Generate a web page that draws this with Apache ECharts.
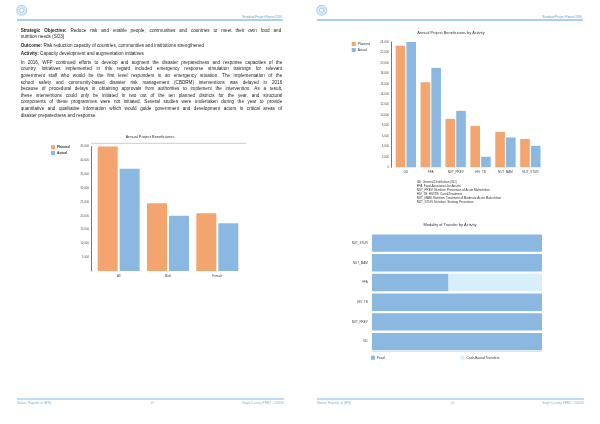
<!DOCTYPE html>
<html><head><meta charset="utf-8">
<script src="https://cdn.jsdelivr.net/npm/echarts@6/dist/echarts.min.js"></script>
<style>html,body{margin:0;padding:0;background:#fff}#c{width:600px;height:424px}</style>
</head><body><div id="c"></div>
<script>
// ---- data ----
const benefCategories = ['All', 'Male', 'Female'];
const benefPlanned = [45000, 24500, 20900];
const benefActual = [37000, 20000, 17300];
const benefMax = 45000, benefStep = 5000;

const activityCategories = ['GD', 'FFA', 'NUT_PREV', 'HIV_TB', 'NUT_MAM', 'NUT_STUN'];
const activityPlanned = [23300, 16300, 9250, 7900, 6750, 5400];
const activityActual = [24000, 19000, 10800, 2000, 5700, 4100];
const activityMax = 24000, activityStep = 2000;
const activityNotes = [
  'GD: General Distribution (GD)',
  'FFA: Food-Assistance-for-Assets',
  'NUT_PREV: Nutrition: Prevention of Acute Malnutrition',
  'HIV_TB: HIV/TB: Care&Treatment',
  'NUT_MAM: Nutrition: Treatment of Moderate Acute Malnutrition',
  'NUT_STUN: Nutrition: Stunting Prevention'
];

const modalityCategories = ['NUT_STUN', 'NUT_MAM', 'FFA', 'HIV_TB', 'NUT_PREV', 'GD'];
const modalityFood = [100, 100, 45, 100, 100, 100];
const modalityCBT = [0, 0, 55, 0, 0, 0];

const headerLines = [
  [['Strategic Objective:', true], ['Reduce risk and enable people, communities and countries to meet their own food and', false]],
  [['nutrition needs (SO3)', false]],
  [['Outcome:', true], ['Risk reduction capacity of countries, communities and institutions strengthened', false]],
  [['Activity:', true], ['Capacity development and augmentation initiatives', false]]
];
const paragraphLines = [
  'In 2016, WFP continued efforts to develop and augment the disaster preparedness and response capacities of the',
  'country. Initiatives implemented in this regard included emergency response simulation trainings for relevant',
  'government staff who would be the first level responders in an emergency situation. The implementation of the',
  'school safety and community-based disaster risk management (CBDRM) interventions was delayed in 2016',
  'because of procedural delays in obtaining approvals from authorities to implement the intervention. As a result,',
  'these interventions could only be initiated in two out of the ten planned districts for the year, and structural',
  'components of these programmes were not initiated. Several studies were undertaken during the year to provide',
  'quantitative and qualitative information which would guide government and development actors in critical areas of',
  'disaster preparedness and response.'
];
const reportTitle = 'Standard Project Report 2016';
const footerLeft = 'Malawi, Republic of (MW)';
const footerRight = 'Single Country PRRO - 200692';
const pageNumbers = ['13', '14'];

// ---- styling ----
const FONT = '"Liberation Sans", Arial, sans-serif';
const ORANGE = '#f3a46f', BLUE = '#8ab8e1', LIGHT = '#d8eefa';
const TEXT = '#1e1e1e';
const mctx = document.createElement('canvas').getContext('2d');
function tw(t, size, bold) {
  mctx.font = (bold ? 'bold ' : 'normal ') + size + 'px ' + FONT;
  return mctx.measureText(t).width;
}
function textLine(segs, x, y, width, size, justify, color) {
  const words = [];
  segs.forEach(([t, b]) => t.split(' ').filter(w => w).forEach(w => words.push({ w, b })));
  const widths = words.map(o => tw(o.w, size, o.b));
  const total = widths.reduce((a, b) => a + b, 0);
  const sp = tw(' ', size, false);
  const gap = (justify && words.length > 1) ? Math.max(sp * 0.6, (width - total) / (words.length - 1)) : sp;
  let cx = x;
  const els = [];
  words.forEach((o, i) => {
    els.push({
      type: 'text', x: cx, y: y, silent: true,
      style: { text: o.w, fontSize: size, fontWeight: o.b ? 'bold' : 'normal', fontFamily: FONT,
        fill: color, verticalAlign: 'middle', textVerticalAlign: 'middle' }
    });
    cx += widths[i] + gap;
  });
  return els;
}

const graphics = [];
// page headers / footers
[0, 300].forEach((ox, p) => {
  graphics.push({ type: 'circle', shape: { cx: ox + 21.7, cy: 10.3, r: 5 }, style: { fill: '#dcebf8', stroke: '#7fb2de', lineWidth: 0.6 } });
  graphics.push({ type: 'circle', shape: { cx: ox + 21.7, cy: 10.3, r: 2.2 }, style: { fill: '#ffffff', stroke: '#6aa3d6', lineWidth: 0.5 } });
  graphics.push({ type: 'line', shape: { x1: ox + 17, y1: 20, x2: ox + 283, y2: 20 }, style: { stroke: '#2f88cf', lineWidth: 0.8 } });
  graphics.push({ type: 'text', x: ox + 282, y: 16.7, style: { text: reportTitle, fontSize: 3, fontFamily: FONT, fill: '#5a9fd6', align: 'right', textAlign: 'right', verticalAlign: 'middle', textVerticalAlign: 'middle' } });
  graphics.push({ type: 'line', shape: { x1: ox + 17, y1: 399, x2: ox + 284, y2: 399 }, style: { stroke: '#7dbbe9', lineWidth: 1 } });
  graphics.push({ type: 'text', x: ox + 17, y: 402.8, style: { text: footerLeft, fontSize: 3, fontFamily: FONT, fill: '#79b5e3', verticalAlign: 'middle', textVerticalAlign: 'middle' } });
  graphics.push({ type: 'text', x: ox + 152, y: 402.8, style: { text: pageNumbers[p], fontSize: 3, fontFamily: FONT, fill: '#79b5e3', align: 'center', textAlign: 'center', verticalAlign: 'middle', textVerticalAlign: 'middle' } });
  graphics.push({ type: 'text', x: ox + 284, y: 402.8, style: { text: footerRight, fontSize: 3, fontFamily: FONT, fill: '#79b5e3', align: 'right', textAlign: 'right', verticalAlign: 'middle', textVerticalAlign: 'middle' } });
});
// left page text
const BODY = 4.6, TX = 20.7, TW = 260.5;
const headerY = [30.8, 36.8, 45.6, 53.6];
headerLines.forEach((segs, i) => graphics.push(...textLine(segs, TX, headerY[i], TW, BODY, i === 0, TEXT)));
paragraphLines.forEach((l, i) => graphics.push(...textLine([[l, false]], TX, 62.5 + i * 6.6, TW + 1, BODY, i < paragraphLines.length - 1, TEXT)));
// left chart frame top line
graphics.push({ type: 'line', shape: { x1: 91, y1: 143.3, x2: 246, y2: 143.3 }, style: { stroke: '#aaaaaa', lineWidth: 0.6 } });
// abbreviations
activityNotes.forEach((t, i) => graphics.push({ type: 'text', x: 416.7, y: 181.7 + i * 4, style: { text: t, fontSize: 3, fontFamily: FONT, fill: '#333', verticalAlign: 'middle', textVerticalAlign: 'middle' } }));

const fmt = v => v.toLocaleString('en-US');
const titleStyle = { fontSize: 3.9, fontWeight: 'normal', color: '#333', fontFamily: FONT };
const legendText = { fontSize: 3.3, color: '#333', fontFamily: FONT };

const option = {
  animation: false,
  textStyle: { fontFamily: FONT },
  title: [
    { text: 'Annual Project Beneficiaries', left: 150, top: 134.6, textAlign: 'center', padding: 0, textStyle: titleStyle },
    { text: 'Annual Project Beneficiaries by Activity', left: 451, top: 31, textAlign: 'center', padding: 0, textStyle: titleStyle },
    { text: 'Modality of Transfer by Activity', left: 450, top: 223, textAlign: 'center', padding: 0, textStyle: titleStyle }
  ],
  legend: [
    { data: ['Planned', 'Actual'], orient: 'vertical', left: 51, top: 145.3, padding: 0, itemWidth: 4, itemHeight: 4, itemGap: 1.7, icon: 'rect', textStyle: Object.assign({ fontWeight: 'bold', padding: [0, 0, 0, -3] }, legendText) },
    { data: ['Planned', 'Actual'], orient: 'vertical', left: 351.7, top: 42, padding: 0, itemWidth: 4, itemHeight: 4, itemGap: 2, icon: 'rect', textStyle: Object.assign({ padding: [0, 0, 0, -3] }, legendText) },
    { data: ['Food', 'Cash-Based Transfers'], orient: 'horizontal', left: 371, top: 355.7, padding: 0, itemWidth: 4, itemHeight: 4, itemGap: 76, icon: 'rect', textStyle: Object.assign({ padding: [0, 0, 0, -3] }, legendText) }
  ],
  grid: [
    { left: 94, top: 146.6, width: 148, height: 124.4 },
    { left: 393.4, top: 42, width: 149.4, height: 125.2 },
    { left: 372, top: 233.2, width: 170, height: 118.3 }
  ],
  xAxis: [
    { type: 'category', gridIndex: 0, data: benefCategories, axisLine: { show: false }, axisTick: { show: false }, axisLabel: { fontSize: 3, color: '#444', margin: 4 } },
    { type: 'category', gridIndex: 1, data: activityCategories, axisLine: { show: false }, axisTick: { show: false }, axisLabel: { fontSize: 3, color: '#444', margin: 3.5 } },
    { type: 'value', gridIndex: 2, min: 0, max: 100, axisLine: { show: true, lineStyle: { color: '#cccccc', width: 0.6 } }, axisTick: { show: false }, axisLabel: { show: false }, splitLine: { show: false } }
  ],
  yAxis: [
    { type: 'value', gridIndex: 0, min: 0, max: benefMax, interval: benefStep, offset: 3,
      axisLine: { show: true, lineStyle: { color: '#555', width: 0.8 } }, axisTick: { show: false }, splitLine: { show: false },
      axisLabel: { fontSize: 2.9, color: '#555', margin: 2, showMinLabel: false, formatter: fmt } },
    { type: 'value', gridIndex: 1, min: 0, max: activityMax, interval: activityStep, offset: 2.4,
      axisLine: { show: true, lineStyle: { color: '#555', width: 0.8 } }, axisTick: { show: false }, splitLine: { show: false },
      axisLabel: { fontSize: 2.9, color: '#555', margin: 2, formatter: fmt } },
    { type: 'category', gridIndex: 2, data: modalityCategories, inverse: true, axisLine: { show: false }, axisTick: { show: false },
      axisLabel: { fontSize: 3, color: '#444', margin: 4.3 } }
  ],
  series: [
    { name: 'Planned', type: 'bar', xAxisIndex: 0, yAxisIndex: 0, data: benefPlanned, barWidth: 20, barGap: '10%', itemStyle: { color: ORANGE } },
    { name: 'Actual', type: 'bar', xAxisIndex: 0, yAxisIndex: 0, data: benefActual, barWidth: 20, barGap: '10%', itemStyle: { color: BLUE } },
    { name: 'Planned', type: 'bar', xAxisIndex: 1, yAxisIndex: 1, data: activityPlanned, barWidth: 9.6, barGap: '12%', itemStyle: { color: ORANGE } },
    { name: 'Actual', type: 'bar', xAxisIndex: 1, yAxisIndex: 1, data: activityActual, barWidth: 9.6, barGap: '12%', itemStyle: { color: BLUE } },
    { name: 'Food', type: 'bar', xAxisIndex: 2, yAxisIndex: 2, stack: 'm', data: modalityFood, barCategoryGap: '12%', itemStyle: { color: BLUE } },
    { name: 'Cash-Based Transfers', type: 'bar', xAxisIndex: 2, yAxisIndex: 2, stack: 'm', data: modalityCBT, barCategoryGap: '12%', itemStyle: { color: LIGHT } }
  ],
  graphic: graphics
};
const chart = echarts.init(document.getElementById('c'), null, { renderer: 'canvas' });
chart.setOption(option);
</script>
</body></html>
